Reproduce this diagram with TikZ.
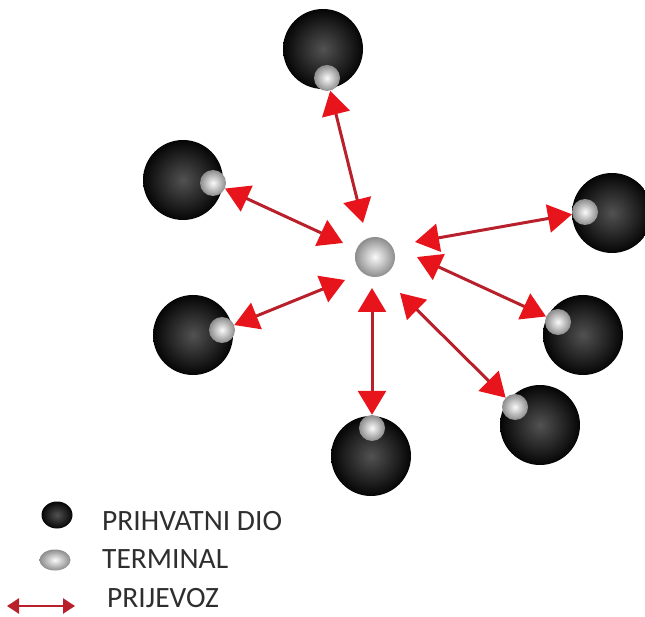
\documentclass[tikz,border=0pt]{standalone}
\usepackage{fontspec}
\setmainfont{Carlito}
\usetikzlibrary{arrows.meta, shapes.geometric}
\definecolor{headred}{HTML}{E8141B}
\definecolor{shaftred}{HTML}{B8212B}
\tikzset{
    part/.style = {circle, minimum size = 80pt, inner sep = 0pt, shading = radial,
        inner color = black!68, outer color = black!98},
    terminal/.style = {circle, minimum size = 26pt, inner sep = 0pt, shading = radial,
        inner color = white!96!gray, outer color = black!45},
    transport/.style = {draw = shaftred, line width = 3pt,
        {Triangle[length = 24pt, width = 28pt, color = headred]}-{Triangle[length = 24pt, width = 28pt, color = headred]}},
    legendtext/.style = {anchor = base west, inner sep = 0pt, text = black!82,
        font = \fontsize{29.5}{31}\selectfont}
}
\begin{document}
\begin{tikzpicture}[x = 1pt, y = -1pt]
        \useasboundingbox (0,0) rectangle (645,617);
        \foreach \n/\sx/\sy/\tx/\ty in {1/323/49/327/78, 2/183/180/213/183, 3/612/213/585/212,
            4/193/335/222/330, 5/583/335/558/322, 6/540/425/515/407, 7/371/456/372/428} {
            \node[part] (d\n) at (\sx,\sy) {};
            \node[terminal] (t\n) at (\tx,\ty) {};
        }
        \node[terminal, minimum size = 40pt] (c) at (375,257) {};
        \foreach \n/\ex/\ey in {1/363/223, 2/343/243, 3/415/242, 4/345/280,
            5/417/257, 6/400/293, 7/372/288} {
            \coordinate (e\n) at (\ex,\ey);
            \draw[transport] (t\n) -- (e\n);
        }
        \begin{scope}[every node/.append style = {inner sep = 0pt}]
            \node[part, ellipse, minimum width = 31pt, minimum height = 27pt] (legpart) at (57,515) {};
            \node[terminal, ellipse, minimum width = 31pt, minimum height = 21pt] (legterm) at (55,560) {};
            \coordinate (legleft) at (7,606);
            \coordinate (legright) at (75,606);
            \draw[draw = shaftred, line width = 2.5pt,
                {Triangle[length = 12pt, width = 15pt]}-{Triangle[length = 12pt, width = 15pt]}] (legleft) -- (legright);
            \node[legendtext] (txtpart) at (102,530) {PRIHVATNI DIO};
            \node[legendtext] (txtterm) at (102,568) {TERMINAL};
            \node[legendtext] (txttrans) at (107,607) {PRIJEVOZ};
        \end{scope}
    \end{tikzpicture}
\end{document}
